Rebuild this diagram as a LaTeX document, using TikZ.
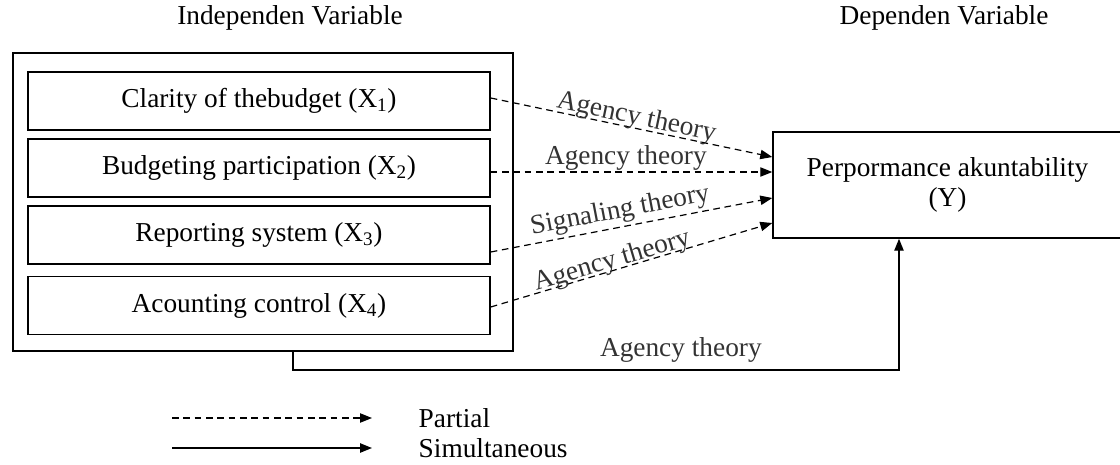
\documentclass[tikz,border=0pt]{standalone}
\usepackage{fontspec}
\setmainfont{Liberation Serif}
\usetikzlibrary{positioning,calc,arrows.meta}
\tikzset{>={Triangle[length=9pt,width=7pt]}}

\begin{document}
\begin{tikzpicture}[x=.75pt,y=-.75pt,font=\fontsize{20.5}{23}\selectfont,line width=1.1pt,
  varbox/.style={draw,minimum width=346.5pt,minimum height=43.5pt,inner sep=0pt},
  part/.style={dashed,dash pattern=on 5pt off 3.5pt,line width=.9pt,->},
  lab/.style={inner sep=1pt,text=black!80}]
\useasboundingbox (0,0) rectangle (1120,464);
\node (ti) at (290,18) {Independen Variable};
\node (td) at (944,18) {Dependen Variable};
\node[draw,minimum width=375pt,minimum height=223.5pt] (indep) at (263,202) {};
\node[varbox] (x1) at (259,101) {Clarity of thebudget (X\textsubscript{1})};
\node[varbox] (x2) at (259,168) {Budgeting participation (X\textsubscript{2})};
\node[varbox] (x3) at (259,235) {Reporting system (X\textsubscript{3})};
\node[varbox] (x4) at (259,305.5) {Acounting control (X\textsubscript{4})};
\node[draw,minimum width=261.75pt,minimum height=79.5pt,align=center] (y) at (947.5,185) {Perpormance akuntability\\(Y)};
% partial paths
\draw[part] ($(x1.east)+(0,-3)$) -- ($(y.west)+(0,-28)$) node[lab,pos=.51,sloped,above=-3pt] {Agency theory};
\draw[part] ($(x2.east)+(0,4)$) -- ($(y.west)+(0,-13)$) node[lab,pos=.48,above] {Agency theory};
\draw[part] ($(x3.east)+(0,17)$) -- ($(y.west)+(0,13)$) node[lab,pos=.47,sloped,above=1pt] {Signaling theory};
\draw[part] ($(x4.east)+(0,1.5)$) -- ($(y.west)+(0,38)$) node[lab,pos=.44,sloped,above=-4pt] {Agency theory};
% simultaneous path
\coordinate (foot) at (293,370);
\coordinate (head) at (899,370);
\draw[->] (indep.south -| foot) -- (foot) -- (head) node[lab,pos=.64,above=4pt] {Agency theory} -- (y.south -| head);
% legend
\coordinate (d0) at (172,418);
\coordinate (d1) at (372,418);
\coordinate (s0) at (172,448);
\coordinate (s1) at (372,448);
\draw[part] (d0) -- (d1);
\draw[->] (s0) -- (s1);
\node[anchor=west,inner sep=0pt] (lp) at (418,418) {Partial};
\node[anchor=west,inner sep=0pt] (ls) at (418,448) {Simultaneous};
\end{tikzpicture}
\end{document}
